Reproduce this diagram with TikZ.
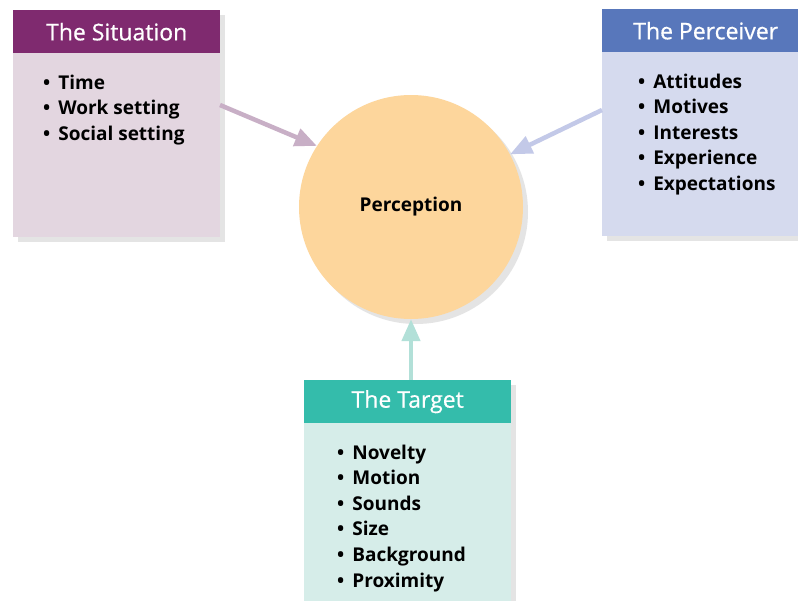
\documentclass[tikz,border=0pt]{standalone}
\usepackage{fontspec}
\setmainfont{Open Sans}
\newfontfamily\headfont{Open Sans}[FakeBold=0.6]
\usetikzlibrary{positioning,shadows,arrows.meta}

\definecolor{sithead}{HTML}{7F2A6F}
\definecolor{sitbody}{HTML}{E3D6E0}
\definecolor{sitarrow}{HTML}{C8AFC6}
\definecolor{perhead}{HTML}{5877BB}
\definecolor{perbody}{HTML}{D5DAEE}
\definecolor{perarrow}{HTML}{C3C9E8}
\definecolor{tgthead}{HTML}{34BCAB}
\definecolor{tgtbody}{HTML}{D6EDE9}
\definecolor{tgtarrow}{HTML}{B2E0D8}
\definecolor{percfill}{HTML}{FDD69C}

\tikzset{
  softshadow/.style={drop shadow={shadow xshift=5pt, shadow yshift=-5pt, opacity=0.15, fill=black!70}},
  card/.style={fill=#1, minimum width=207pt, minimum height=227pt, inner sep=0pt, anchor=north west, softshadow},
  header/.style={fill=#1, text=white, minimum width=207pt, minimum height=43pt, inner sep=0pt, anchor=north,
    font=\headfont\fontsize{23}{26}\selectfont},
  item/.style={anchor=base west, inner sep=0pt, font=\bfseries\fontsize{19}{22}\selectfont},
  feed/.style={draw=#1, line width=4.5pt, -{Triangle[length=22pt, width=18pt]}}
}

\begin{document}
\begin{tikzpicture}[x=1pt, y=-1pt]
    \clip (0,0) rectangle (798,600);
    \fill[white] (0,0) rectangle (798,600);

    % the circle in the middle
    \node[circle, fill=percfill, minimum size=224pt, inner sep=0pt, softshadow,
      font=\bfseries\fontsize{19}{22}\selectfont] (perc) at (411,207) {\raisebox{-3pt}{Perception}};

    % situation
    \node[card=sitbody] (sit) at (13,10) {};
    \node[header=sithead] (sit-head) at (sit.north) {The Situation};
    \foreach \t [count=\i] in {Time, Work setting, Social setting}
      \node[item] (sit-\i) at (43, 63.5+25.5*\i) {\textbullet\hspace{8pt}\t};

    % perceiver
    \node[card=perbody] (per) at (602,9) {};
    \node[header=perhead] (per-head) at (per.north) {The Perceiver};
    \foreach \t [count=\i] in {Attitudes, Motives, Interests, Experience, Expectations}
      \node[item] (per-\i) at (638, 62.5+25.5*\i) {\textbullet\hspace{8pt}\t};

    % target
    \node[card=tgtbody] (tgt) at (304,380) {};
    \node[header=tgthead] (tgt-head) at (tgt.north) {The Target};
    \foreach \t [count=\i] in {Novelty, Motion, Sounds, Size, Background, Proximity}
      \node[item] (tgt-\i) at (337, 433.4+25.6*\i) {\textbullet\hspace{8pt}\t};

    % arrows into the circle
    \coordinate (sit-out) at (220,105);
    \coordinate (per-out) at (602,110);
    \draw[feed=sitarrow] (sit-out) -- (perc.147);
    \draw[feed=perarrow] (per-out) -- (perc.28);
    \draw[feed=tgtarrow] (perc.south |- tgt-head.north) -- (perc.south);
\end{tikzpicture}
\end{document}
